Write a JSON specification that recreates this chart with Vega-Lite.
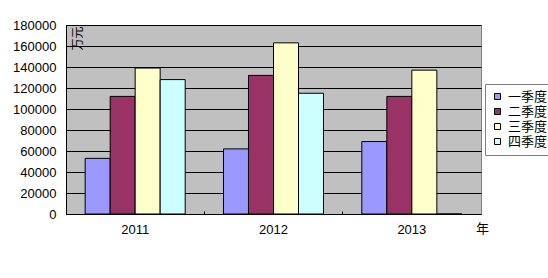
{
  "$schema": "https://vega.github.io/schema/vega-lite/v6.json",
  "width": 415,
  "height": 189,
  "autosize": {"type": "none"},
  "padding": {"left": 66, "top": 25, "right": 67, "bottom": 64},
  "background": "white",
  "data": {
    "values": [
      {"year": "2011", "quarter": "一季度", "value": 53000},
      {"year": "2011", "quarter": "二季度", "value": 112000},
      {"year": "2011", "quarter": "三季度", "value": 139000},
      {"year": "2011", "quarter": "四季度", "value": 128000},
      {"year": "2012", "quarter": "一季度", "value": 62000},
      {"year": "2012", "quarter": "二季度", "value": 132000},
      {"year": "2012", "quarter": "三季度", "value": 163000},
      {"year": "2012", "quarter": "四季度", "value": 115000},
      {"year": "2013", "quarter": "一季度", "value": 69000},
      {"year": "2013", "quarter": "二季度", "value": 112000},
      {"year": "2013", "quarter": "三季度", "value": 137000},
      {"year": "2013", "quarter": "四季度", "value": 0}
    ]
  },
  "mark": {"type": "bar", "stroke": "black", "strokeWidth": 1, "opacity": 1},
  "encoding": {
    "x": {
      "field": "year",
      "type": "nominal",
      "scale": {"paddingInner": 0.277, "paddingOuter": 0.1385},
      "axis": {
        "title": "年",
        "titleX": 416,
        "titleY": 14,
        "titleAlign": "center",
        "titleBaseline": "middle",
        "titleFont": "Noto Sans CJK SC",
        "titleFontSize": 13,
        "titleFontWeight": "normal",
        "titleColor": "black",
        "labelAngle": 0,
        "labelFont": "Liberation Sans",
        "labelFontSize": 13,
        "labelColor": "black",
        "labelPadding": 12,
        "domainColor": "black",
        "domainWidth": 1,
        "ticks": true,
        "tickSize": -3,
        "tickColor": "black",
        "bandPosition": -0.1915
      }
    },
    "xOffset": {
      "field": "quarter",
      "type": "nominal",
      "sort": ["一季度", "二季度", "三季度", "四季度"],
      "scale": {"paddingInner": 0, "paddingOuter": 0}
    },
    "y": {
      "field": "value",
      "type": "quantitative",
      "scale": {"domain": [0, 180000], "nice": false},
      "axis": {
        "title": "万元",
        "titleX": 6,
        "titleY": 1,
        "titleAngle": -90,
        "titleAlign": "right",
        "titleBaseline": "top",
        "titleFont": "Noto Sans CJK SC",
        "titleFontSize": 12,
        "titleFontWeight": "normal",
        "titleColor": "black",
        "values": [0, 20000, 40000, 60000, 80000, 100000, 120000, 140000, 160000, 180000],
        "format": "d",
        "labelFont": "Liberation Sans",
        "labelFontSize": 13,
        "labelColor": "black",
        "labelPadding": 10,
        "ticks": false,
        "grid": true,
        "gridColor": "black",
        "gridWidth": 1,
        "gridOpacity": 1,
        "domainColor": "black",
        "domainWidth": 1
      }
    },
    "color": {
      "field": "quarter",
      "type": "nominal",
      "scale": {
        "domain": ["一季度", "二季度", "三季度", "四季度"],
        "range": ["#9999FF", "#993366", "#FFFFCC", "#CCFFFF"]
      },
      "legend": {
        "title": null,
        "orient": "none",
        "legendX": 419,
        "legendY": 59,
        "padding": 6,
        "strokeColor": "#808080",
        "fillColor": "white",
        "symbolType": "square",
        "symbolSize": 36,
        "symbolStrokeColor": "black",
        "symbolStrokeWidth": 1,
        "symbolOpacity": 1,
        "labelFont": "Noto Sans CJK SC",
        "labelFontSize": 13,
        "labelColor": "black",
        "labelOffset": 4,
        "rowPadding": 1
      }
    }
  },
  "config": {
    "view": {"fill": "#C0C0C0", "stroke": "#808080", "strokeWidth": 1}
  }
}
